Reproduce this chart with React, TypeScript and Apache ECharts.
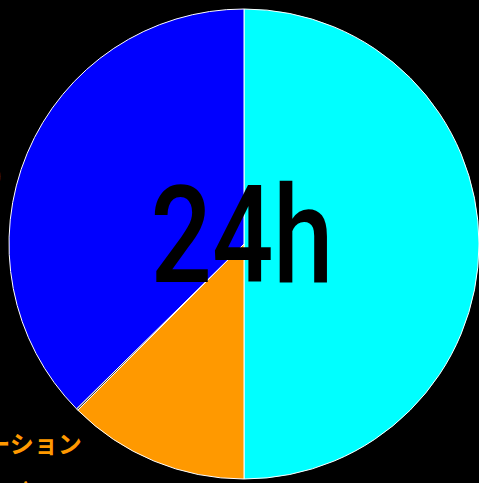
import React, { useEffect, useRef } from "react";
import * as echarts from "echarts";

const categories = ["仕事", "レクリエーション", "その他", "睡眠"];
const hours = [12, 3, 0.03, 8.97];
const sliceColors = ["#00FFFF", "#FF9900", "#444444", "#0000FF"];
const labelColors = ["#00FFFF", "#FF9900", "#444444", "#FFFFFF"];
const centerText = "24h";

export default function App() {
  const ref = useRef<HTMLDivElement>(null);
  useEffect(() => {
    if (!ref.current) return;
    const chart = echarts.init(ref.current, null, { renderer: "svg" });
    const labelPos: Record<number, { x: number; y: number }> = {
      0: { x: 700, y: 244 },
      1: { x: -14, y: 466 },
      3: { x: -51, y: 149 },
    };
    chart.setOption({
      animation: false,
      backgroundColor: "#000000",
      series: [
        {
          type: "pie",
          center: [244, 244],
          radius: [0, 235],
          startAngle: 90,
          clockwise: true,
          avoidLabelOverlap: false,
          itemStyle: { borderColor: "#FFFFFF", borderWidth: 1 },
          label: {
            show: true,
            position: "outside",
            formatter: (p: any) => `${p.name}\n(${p.percent}%)`,
            fontSize: 24,
            fontWeight: "bold",
            fontFamily: "Noto Sans CJK JP",
            lineHeight: 48,
          },
          labelLine: { show: false },
          labelLayout: (params: any) => {
            const pos = labelPos[params.dataIndex];
            if (!pos) return {};
            return { x: pos.x, y: pos.y, align: "center", verticalAlign: "middle" };
          },
          data: categories.map((name, i) => ({
            name,
            value: hours[i],
            itemStyle: { color: sliceColors[i] },
            label: { show: i !== 2, color: labelColors[i] },
          })),
        },
      ],
      graphic: [
        {
          type: "text",
          x: 242,
          y: 236,
          scaleX: 0.8,
          z: 100,
          style: {
            text: centerText,
            fill: "#000000",
            fontSize: 135,
            fontWeight: 500,
            fontFamily: "Roboto",
            textAlign: "center",
            textVerticalAlign: "middle",
            align: "center",
            verticalAlign: "middle",
          },
        },
      ],
    });
    return () => chart.dispose();
  }, []);
  return (
    <div
      ref={ref}
      style={{ position: "fixed", left: 0, top: 0, width: 479, height: 483, background: "#000" }}
    />
  );
}
